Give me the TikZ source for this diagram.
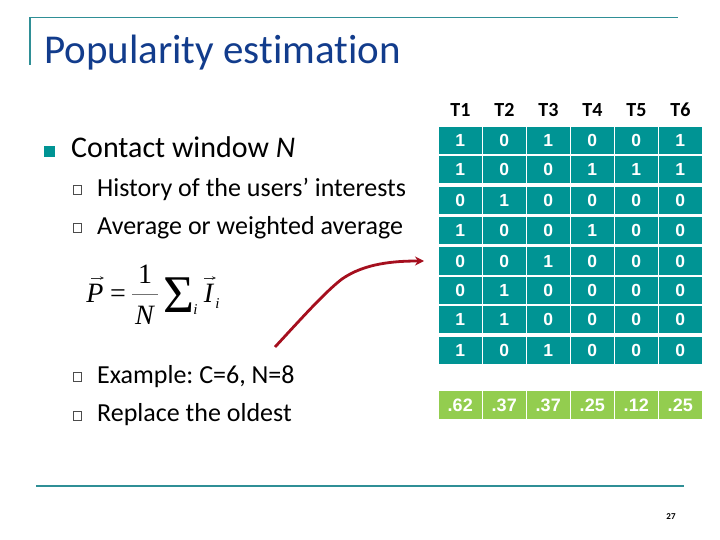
\documentclass[tikz,border=0pt]{standalone}
\usepackage{fontspec}
\setmainfont[Ligatures=NoCommon]{Carlito}
\newfontfamily\tabfont{Liberation Sans}
\newfontfamily\eqfont{Liberation Serif}
\frenchspacing
\definecolor{tealc}{HTML}{009494}
\definecolor{greenc}{HTML}{93CD4F}
\definecolor{linec}{HTML}{2F8F96}
\definecolor{titlec}{HTML}{123C8C}
\definecolor{arrowc}{HTML}{A50F1E}
\usetikzlibrary{arrows.meta}
\tikzset{
  title/.style={anchor=base west,inner sep=0,text=titlec,font=\fontsize{41}{41}\selectfont},
  lvlone/.style={anchor=base west,inner sep=0,font=\fontsize{30}{30}\selectfont},
  lvltwo/.style={anchor=base west,inner sep=0,font=\fontsize{26}{26}\selectfont},
  mainbullet/.style={fill=tealc,minimum size=11,inner sep=0,draw=none},
  subbullet/.style={draw=black!70,line width=1.1,fill=white,minimum size=8.5,inner sep=0},
  frameline/.style={draw=linec,line width=1.4},
  headcell/.style={anchor=base,inner sep=0,font=\bfseries\fontsize{20}{20}\selectfont},
  datacell/.style={fill=tealc,text=white,inner sep=0,minimum width=42.5,text height=12,text depth=0,font=\tabfont\bfseries\fontsize{17.5}{17.5}\selectfont},
  sumcell/.style={fill=greenc,text=white,inner sep=0,minimum width=42.5,minimum height=28,text height=12,text depth=0,font=\tabfont\bfseries\fontsize{18}{18}\selectfont},
  eqtext/.style={anchor=base,inner sep=0,font=\eqfont\fontsize{28}{28}\selectfont},
  eqsub/.style={anchor=base,inner sep=0,font=\eqfont\itshape\fontsize{15}{15}\selectfont},
  eqsum/.style={anchor=base,inner sep=0,font=\eqfont\fontsize{53}{53}\selectfont},
  eqarrow/.style={draw=black!80,line width=0.6,-{Stealth[length=4,width=3.5]}},
  curve/.style={draw=arrowc,line width=2.8,-{Stealth[length=9,width=9]}}
}
\begin{document}
\begin{tikzpicture}[x=1pt,y=-1pt]
\useasboundingbox (0,0) rectangle (720,540);
\coordinate (ft) at (30,17.5); \coordinate (fb) at (30,65); \coordinate (fr) at (678,17.5);
\draw[frameline] (fb) -- (ft) -- (fr);
\coordinate (bl) at (36,486); \coordinate (br) at (684,486);
\draw[frameline] (bl) -- (br);
\node[title] (ttl) at (44,64) {Popularity estimation};
\node[mainbullet] (b0) at (49.5,151.5) {};
\node[lvlone] (l0) at (71,158) {Contact window \textit{N}};
\node[subbullet] (b1) at (77.5,190) {};
\node[lvltwo] (l1) at (97,196.5) {History of the users’ interests};
\node[subbullet] (b2) at (77.5,228) {};
\node[lvltwo] (l2) at (97,234.5) {Average or weighted average};
\node[subbullet] (b3) at (77.5,377) {};
\node[lvltwo] (l3) at (97,383.5) {Example: C=6, N=8};
\node[subbullet] (b4) at (77.5,416) {};
\node[lvltwo] (l4) at (97,421.5) {Replace the oldest};
% formula
\node[eqtext] (eqp) at (95,302) {\textit{P}};
\node[eqtext] (eqe) at (118,302) {=};
\node[eqtext] (eqo) at (145,283) {1};
\node[eqtext] (eqn) at (145,324) {\textit{N}};
\node[eqsum] (eqs) at (178.5,312) {Σ};
\node[eqsub] (eqi) at (195.5,314) {i};
\node[eqtext] (eqv) at (209,302) {\textit{I}};
\node[eqsub] (eqj) at (217.5,308) {i};
\coordinate (fl) at (132,294); \coordinate (fr2) at (158,294);
\draw[draw=black!55,line width=0.9] (fl) -- (fr2);
\coordinate (a1) at (91,278); \coordinate (a2) at (104,278);
\draw[eqarrow] (a1) -- (a2);
\coordinate (a3) at (204,278); \coordinate (a4) at (216,278);
\draw[eqarrow] (a3) -- (a4);
% table
\foreach \n/\cx in {1/460.5,2/504.5,3/548.5,4/592.5,5/636.5,6/680.5}
  \node[headcell] (h\n) at (\cx,116.5) {T\n};
\foreach \r/\top/\bot/\vals in {
  1/126.7/154/{1,0,1,0,0,1},
  2/156/182.7/{1,0,0,1,1,1},
  3/187.3/214/{0,1,0,0,0,0},
  4/217.3/244/{1,0,0,1,0,0},
  5/247.3/275/{0,0,1,0,0,0},
  6/277.3/304/{0,1,0,0,0,0},
  7/306/333.3/{1,1,0,0,0,0},
  8/337/364/{1,0,1,0,0,0}}{
  \foreach \v [count=\c] in \vals {
    \pgfmathsetmacro{\cx}{439+44*(\c-1)+21.25}
    \pgfmathsetmacro{\cy}{(\top+\bot)/2}
    \pgfmathsetmacro{\ch}{\bot-\top}
    \node[datacell,minimum height=\ch] (c\r-\c) at (\cx,\cy) {\v};
  }
}
\foreach \v [count=\c] in {.62,.37,.37,.25,.12,.25} {
  \pgfmathsetmacro{\cx}{439+44*(\c-1)+21.25}
  \node[sumcell] (s\c) at (\cx,405) {\v};
}
\node[inner sep=0,font=\bfseries\fontsize{9}{9}\selectfont] (pg) at (671,516.5) {27};
\coordinate (cs) at (275,347); \coordinate (ce) at (424,261);
\draw[curve] (cs) .. controls (300,320) and (325,292) .. (342,279) .. controls (365,263) and (395,261) .. (ce);
\end{tikzpicture}
\end{document}
